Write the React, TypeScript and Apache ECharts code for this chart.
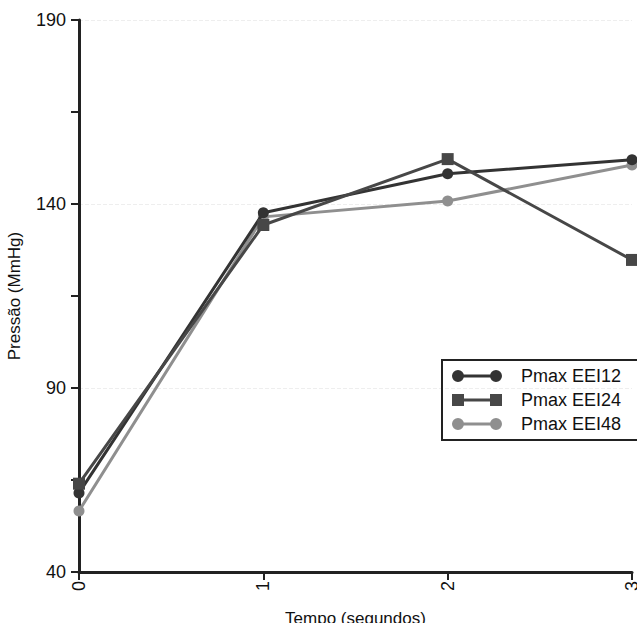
import React, { useEffect, useRef } from "react";
import * as echarts from "echarts";

const times = [0, 1, 2, 3];
const seriesNames = ["Pmax EEI12", "Pmax EEI24", "Pmax EEI48"];
const eei12 = [61.5, 137.6, 148.2, 152];
const eei24 = [64, 134.3, 152.2, 124.8];
const eei48 = [56.6, 136.5, 140.8, 150.6];
const yTicks = [40, 90, 140, 190];

const circleIcon =
  "path://M0,6 A6,6 0 1,1 12,6 A6,6 0 1,1 0,6 Z M38,6 A6,6 0 1,1 50,6 A6,6 0 1,1 38,6 Z M11,4.5 L39,4.5 L39,7.5 L11,7.5 Z";
const squareIcon =
  "path://M0,0 L12,0 L12,12 L0,12 Z M38,0 L50,0 L50,12 L38,12 Z M11,4.5 L39,4.5 L39,7.5 L11,7.5 Z";

export default function App() {
  const ref = useRef<HTMLDivElement>(null);
  useEffect(() => {
    if (!ref.current) return;
    const chart = echarts.init(ref.current, null, { renderer: "svg" });
    const font = "'Liberation Sans', Arial, sans-serif";
    const colors = ["#333333", "#474747", "#8f8f8f"];
    const datas = [eei12, eei24, eei48];
    const symbols = ["circle", "rect", "circle"];
    chart.setOption({
      animation: false,
      backgroundColor: "#ffffff",
      textStyle: { fontFamily: font },
      grid: { left: 79, top: 20, right: 5, bottom: 51, containLabel: false, outerBoundsMode: "none" },
      legend: {
        orient: "vertical",
        left: 442,
        top: 360,
        padding: [7, 30, 7, 10],
        itemGap: 6,
        itemWidth: 50,
        itemHeight: 12,
        borderColor: "#222",
        borderWidth: 2,
        borderRadius: 0,
        textStyle: { fontSize: 18, color: "#111", fontFamily: font, padding: [0, 0, 0, 14] },
        data: seriesNames.map((n, i) => ({
          name: n,
          icon: i === 1 ? squareIcon : circleIcon,
          itemStyle: { color: colors[i] },
        })),
      },
      xAxis: {
        type: "value",
        min: 0,
        max: 3,
        interval: 1,
        name: "Tempo (segundos)",
        nameLocation: "middle",
        nameGap: 38,
        nameTextStyle: { fontSize: 17, color: "#111", fontFamily: font },
        axisLine: { onZero: false, lineStyle: { color: "#222", width: 3 } },
        axisTick: { show: true, length: 8, lineStyle: { color: "#222", width: 2 } },
        axisLabel: { rotate: 90, fontSize: 18, color: "#111", margin: 9, fontFamily: font },
        splitLine: { show: false },
      },
      yAxis: {
        type: "value",
        min: 40,
        max: 190,
        interval: 50,
        name: "Pressão (MmHg)",
        nameLocation: "middle",
        nameGap: 56,
        nameTextStyle: { fontSize: 17, color: "#111", fontFamily: font },
        axisLine: { show: true, onZero: false, lineStyle: { color: "#222", width: 3 } },
        axisTick: { show: true, length: 8, lineStyle: { color: "#222", width: 2 } },
        minorTick: { show: true, splitNumber: 2, length: 8, lineStyle: { color: "#222", width: 2 } },
        axisLabel: {
          fontSize: 18,
          color: "#111",
          margin: 13,
          fontFamily: font,
          formatter: (v: number) => (yTicks.includes(v) ? String(v) : ""),
        },
        splitLine: { show: true, lineStyle: { color: "#eeeeee", width: 1, type: "dashed" } },
      },
      series: seriesNames.map((n, i) => ({
        name: n,
        type: "line",
        data: times.map((t, j) => [t, datas[i][j]]),
        symbol: symbols[i],
        symbolSize: i === 1 ? 12 : 11,
        showSymbol: true,
        lineStyle: { color: colors[i], width: 3 },
        itemStyle: { color: colors[i], borderWidth: 0 },
        z: i === 1 ? 4 : i === 0 ? 3 : 2,
        clip: false,
      })),
    });
    return () => chart.dispose();
  }, []);
  return <div ref={ref} style={{ width: 637, height: 623, position: "absolute", left: 0, top: 0 }} />;
}
